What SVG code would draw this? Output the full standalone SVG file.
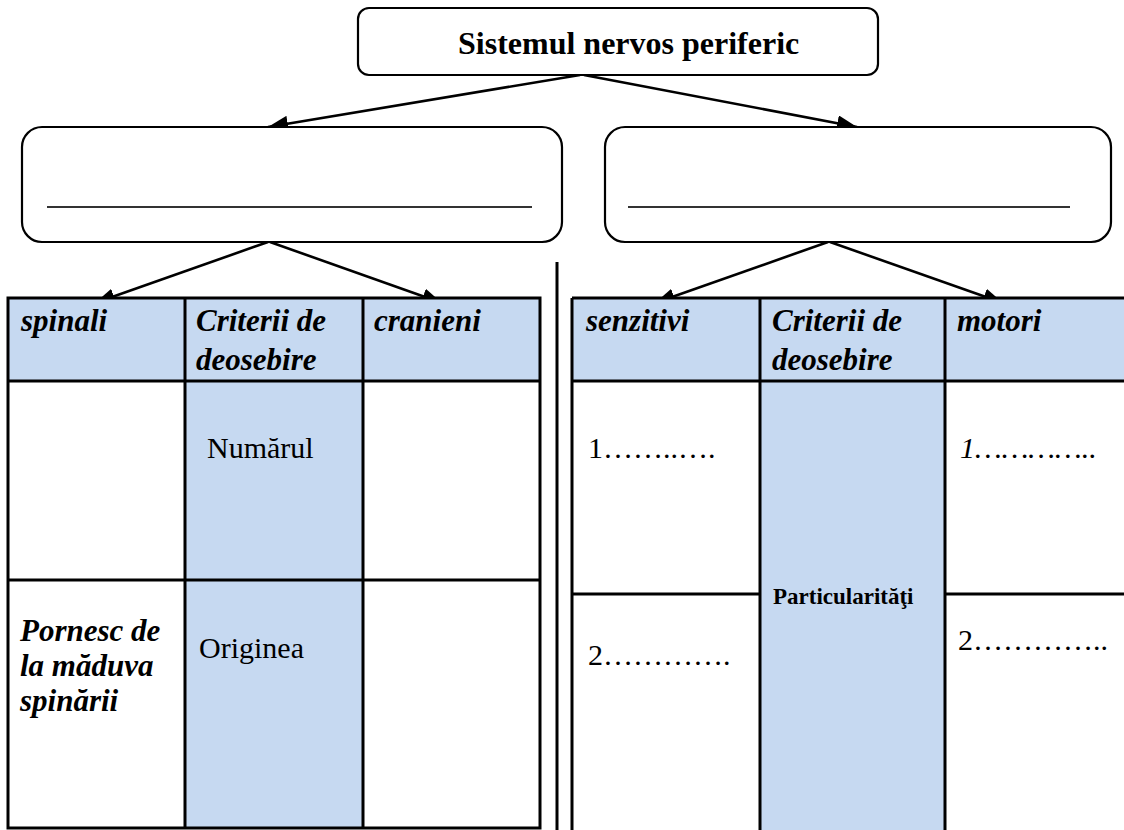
<svg xmlns="http://www.w3.org/2000/svg" width="1124" height="830" viewBox="0 0 1124 830">
<defs>
<marker id="arr" markerUnits="userSpaceOnUse" markerWidth="22" markerHeight="16" refX="20" refY="8" orient="auto">
<path d="M0,0 L20,8 L0,16 Z" fill="#000"/>
</marker>
<style>
.box{fill:#fff;stroke:#000;stroke-width:2.2}
.ln{stroke:#000;stroke-width:3;fill:none}
.con{stroke:#000;stroke-width:2.6;fill:none}
.blue{fill:#C6D9F1}
.h{font-size:31px;font-weight:bold;font-style:italic}
.r{font-size:30px}
.blank{stroke:#333;stroke-width:2}
</style>
</defs>
<rect width="1124" height="830" fill="#fff"/>

<g id="connectors">
<line class="con" x1="580" y1="75" x2="268" y2="127" marker-end="url(#arr)"/>
<line class="con" x1="584" y1="75" x2="857" y2="127" marker-end="url(#arr)"/>
<line class="con" x1="268" y1="242" x2="95" y2="303" marker-end="url(#arr)"/>
<line class="con" x1="270" y1="242" x2="442" y2="303" marker-end="url(#arr)"/>
<line class="con" x1="828" y1="242" x2="655" y2="303" marker-end="url(#arr)"/>
<line class="con" x1="830" y1="242" x2="1003" y2="303" marker-end="url(#arr)"/>
</g>

<g font-family="Liberation Serif, DejaVu Serif, serif" fill="#000">
<g id="root">
<rect class="box" x="358" y="8" width="520" height="67" rx="11"/>
<text x="458" y="54" font-size="32" font-weight="bold">Sistemul nervos periferic</text>
</g>

<g id="left-box">
<rect class="box" x="22" y="127" width="540" height="115" rx="20"/>
<line class="blank" x1="47" y1="207" x2="532" y2="207"/>
</g>

<g id="right-box">
<rect class="box" x="605" y="127" width="506" height="115" rx="20"/>
<line class="blank" x1="628" y1="207" x2="1070" y2="207"/>
</g>

<g id="separator">
<line class="ln" x1="557" y1="262" x2="557" y2="830"/>
</g>

<g id="left-table">
<rect class="blue" x="8" y="298" width="532" height="83"/>
<rect class="blue" x="185" y="381" width="178" height="447"/>
<rect class="ln" x="8" y="298" width="532" height="530"/>
<line class="ln" x1="185" y1="298" x2="185" y2="828"/>
<line class="ln" x1="363" y1="298" x2="363" y2="828"/>
<line class="ln" x1="8" y1="381" x2="540" y2="381"/>
<line class="ln" x1="8" y1="580" x2="540" y2="580"/>
<text class="h" x="21" y="331">spinali</text>
<text class="h" x="196" y="331">Criterii de</text>
<text class="h" x="196" y="370">deosebire</text>
<text class="h" x="374" y="331">cranieni</text>
<text class="r" x="207" y="458">Numărul</text>
<text class="r" x="199" y="658">Originea</text>
<text class="h" x="20" y="641">Pornesc de</text>
<text class="h" x="20" y="676">la măduva</text>
<text class="h" x="20" y="711">spinării</text>
</g>

<g id="right-table">
<rect class="blue" x="572" y="298" width="552" height="83"/>
<rect class="blue" x="760" y="381" width="185" height="449"/>
<line class="ln" x1="572" y1="298" x2="1124" y2="298"/>
<line class="ln" x1="572" y1="381" x2="1124" y2="381"/>
<line class="ln" x1="572" y1="298" x2="572" y2="830"/>
<line class="ln" x1="760" y1="298" x2="760" y2="830"/>
<line class="ln" x1="945" y1="298" x2="945" y2="830"/>
<line class="ln" x1="572" y1="594" x2="760" y2="594"/>
<line class="ln" x1="945" y1="594" x2="1124" y2="594"/>
<text class="h" x="586" y="331">senzitivi</text>
<text class="h" x="772" y="331">Criterii de</text>
<text class="h" x="772" y="370">deosebire</text>
<text class="h" x="957" y="331">motori</text>
<text class="r" x="588" y="458">1……..….</text>
<text class="r" x="588" y="665">2………….</text>
<text class="r" x="960" y="458" font-style="italic">1…………..</text>
<text class="r" x="958" y="650">2…………..</text>
<text x="773" y="604" font-size="23" font-weight="bold">Particularităţi</text>
</g>
</g>
</svg>
